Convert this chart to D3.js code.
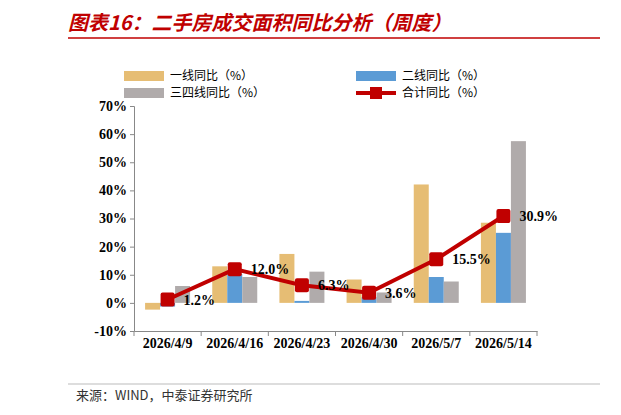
<!DOCTYPE html>
<html><head><meta charset="utf-8">
<script src="https://cdn.jsdelivr.net/npm/d3@7"></script>
<style>body{margin:0;background:#fff;}</style>
</head><body>
<script>
let dates = ["2026/4/9", "2026/4/16", "2026/4/23", "2026/4/30", "2026/5/7", "2026/5/14"];
let tier1 = [-2.4, 13.0, 17.4, 8.3, 42.1, 28.5];
let tier2 = [-1.3, 10.2, 0.7, 2.0, 9.2, 24.9];
let tier34 = [6.0, 9.2, 11.1, 3.7, 7.6, 57.5];
let total = [1.2, 12.0, 6.3, 3.6, 15.5, 30.9];
let yTicks = [-10, 0, 10, 20, 30, 40, 50, 60, 70];

let svg = d3.select("body").append("svg").attr("width", 621).attr("height", 415);
let serif = "'Liberation Serif',serif";
let cjk = "'Noto Sans CJK SC',sans-serif";

//title
svg.append("text").attr("x", 68).attr("y", 30)
	.attr("fill", "#c00000").attr("font-size", 20).attr("font-weight", "bold")
	.attr("font-style", "italic").attr("font-family", cjk)
	.text("图表16：二手房成交面积同比分析（周度）");
svg.append("line").attr("x1", 68).attr("x2", 600).attr("y1", 38).attr("y2", 38)
	.attr("stroke", "#c00000").attr("stroke-width", 1.5);

let margin = {left: 134, right: 84, top: 106, bottom: 84};
let innerW = 621 - margin.left - margin.right;
let innerH = 415 - margin.top - margin.bottom;
let g = svg.append("g").attr("transform", `translate(${margin.left},${margin.top})`);

let x = d3.scaleBand().domain(dates).range([0, innerW]);
let y = d3.scaleLinear().domain([-10, 70]).range([innerH, 0]);
let bw = 15;
let series = [
	{vals: tier1, color: "#e6bd74", off: -bw * 1.5},
	{vals: tier2, color: "#5b9bd5", off: -bw * 0.5},
	{vals: tier34, color: "#b0abab", off: bw * 0.5}
];
series.forEach(s => {
	g.selectAll(null).data(s.vals).enter().append("rect")
		.attr("x", (d, i) => x(dates[i]) + x.bandwidth() / 2 + s.off)
		.attr("width", bw)
		.attr("y", d => y(Math.max(0, d)))
		.attr("height", d => Math.abs(y(d) - y(0)))
		.attr("fill", s.color);
});

let yAxis = g.append("g").call(d3.axisLeft(y).tickValues(yTicks).tickSize(4).tickFormat(d => d + "%"));
yAxis.selectAll("text").attr("font-family", serif).attr("font-weight", "bold").attr("font-size", 14).attr("fill", "#000");
yAxis.select(".domain").attr("stroke", "#888");
yAxis.selectAll(".tick line").attr("stroke", "#888");

let xAxis = g.append("g").attr("transform", `translate(0,${innerH})`)
	.call(d3.axisBottom(x).tickSize(0).tickPadding(7));
xAxis.selectAll("text").attr("font-family", serif).attr("font-weight", "bold").attr("font-size", 14).attr("fill", "#000");
xAxis.select(".domain").attr("stroke", "#888");
dates.concat([null]).forEach((d, i) => {
	let xx = i * x.step();
	g.append("line").attr("x1", xx).attr("x2", xx).attr("y1", innerH).attr("y2", innerH + 5).attr("stroke", "#888");
});

//total line
let cx = (d, i) => x(dates[i]) + x.bandwidth() / 2;
g.append("path").datum(total)
	.attr("d", d3.line().x(cx).y(d => y(d)))
	.attr("fill", "none").attr("stroke", "#c00000").attr("stroke-width", 4);
g.selectAll(null).data(total).enter().append("rect")
	.attr("x", (d, i) => cx(d, i) - 7).attr("y", d => y(d) - 7)
	.attr("width", 14).attr("height", 14).attr("rx", 2).attr("fill", "#c00000");
g.selectAll(null).data(total).enter().append("text")
	.attr("x", (d, i) => cx(d, i) + 16).attr("y", d => y(d) + 5)
	.attr("font-family", serif).attr("font-weight", "bold").attr("font-size", 14)
	.text(d => d.toFixed(1) + "%");

//legend
let legend = [
	{label: "一线同比（%）", color: "#e6bd74", x: 124, y: 76},
	{label: "二线同比（%）", color: "#5b9bd5", x: 356, y: 76},
	{label: "三四线同比（%）", color: "#b0abab", x: 124, y: 93},
	{label: "合计同比（%）", color: "#c00000", x: 356, y: 93, line: true}
];
legend.forEach(l => {
	if (l.line) {
		svg.append("line").attr("x1", l.x).attr("x2", l.x + 40).attr("y1", l.y).attr("y2", l.y)
			.attr("stroke", l.color).attr("stroke-width", 4);
		svg.append("rect").attr("x", l.x + 14).attr("y", l.y - 6).attr("width", 12).attr("height", 12).attr("fill", l.color);
	} else {
		svg.append("rect").attr("x", l.x).attr("y", l.y - 5).attr("width", 40).attr("height", 10).attr("fill", l.color);
	}
	svg.append("text").attr("x", l.x + 46).attr("y", l.y + 4)
		.attr("font-family", cjk).attr("font-size", 12).text(l.label);
});

//source
svg.append("line").attr("x1", 68).attr("x2", 600).attr("y1", 384).attr("y2", 384).attr("stroke", "#bbb");
svg.append("text").attr("x", 76).attr("y", 400).attr("font-family", cjk).attr("font-size", 13)
	.attr("fill", "#333").text("来源：WIND，中泰证券研究所");
</script>
</body></html>
